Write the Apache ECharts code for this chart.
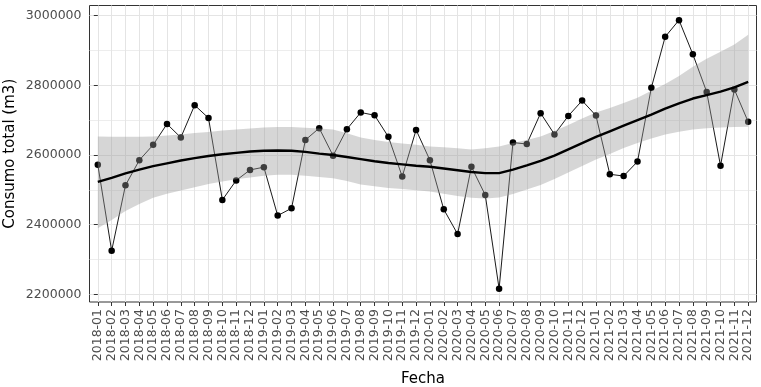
<!DOCTYPE html>
<html>
<head>
<meta charset="utf-8">
<script src="https://cdn.jsdelivr.net/npm/echarts@6/dist/echarts.min.js"></script>
<style>html,body{margin:0;padding:0;background:#fff}#c{width:761px;height:387px}</style>
</head>
<body>
<div id="c"></div>
<script>
const categories = ['2018-01','2018-02','2018-03','2018-04','2018-05','2018-06','2018-07','2018-08','2018-09','2018-10','2018-11','2018-12',
  '2019-01','2019-02','2019-03','2019-04','2019-05','2019-06','2019-07','2019-08','2019-09','2019-10','2019-11','2019-12',
  '2020-01','2020-02','2020-03','2020-04','2020-05','2020-06','2020-07','2020-08','2020-09','2020-10','2020-11','2020-12',
  '2021-01','2021-02','2021-03','2021-04','2021-05','2021-06','2021-07','2021-08','2021-09','2021-10','2021-11','2021-12'];

const consumo = [2572000,2325000,2513000,2585000,2629000,2689000,2650000,2743000,2706000,2471000,2527000,2557000,
  2565000,2426000,2447000,2643000,2677000,2598000,2674000,2722000,2714000,2652000,2538000,2672000,
  2585000,2444000,2373000,2566000,2485000,2216000,2635500,2631500,2720000,2659000,2712000,2756000,
  2713000,2544600,2539500,2581000,2793000,2939000,2987000,2889000,2781000,2569000,2788000,2695000];

const suavizado = [2523000,2534000,2547000,2558000,2568000,2576000,2584000,2591000,2597000,2602000,2606000,2610000,
  2612000,2613000,2612000,2609000,2604000,2600000,2594000,2588000,2582000,2577000,2573000,2569000,
  2566000,2561000,2556000,2551000,2548000,2548000,2558000,2570000,2583000,2598000,2616000,2634000,
  2652000,2668000,2684000,2700000,2716000,2733000,2748000,2762000,2772000,2782000,2794000,2810000];

const bandaSup = [2653000,2652000,2652000,2652000,2653000,2656000,2659000,2663000,2666000,2670000,2673000,2676000,
  2679000,2680000,2680000,2678000,2676000,2673000,2662000,2650000,2643000,2637000,2633000,2629000,
  2624000,2622000,2619000,2616000,2619000,2624000,2634000,2643000,2653000,2669000,2686000,2705000,
  2722000,2735000,2749000,2764000,2784000,2804000,2827000,2853000,2876000,2896000,2917000,2945000];

const bandaInf = [2390000,2413000,2439000,2459000,2477000,2489000,2498000,2507000,2517000,2524000,2530000,2535000,
  2540000,2543000,2543000,2540000,2537000,2533000,2525000,2515000,2510000,2505000,2502000,2499000,
  2495000,2489000,2482000,2477000,2475000,2478000,2488000,2501000,2514000,2531000,2550000,2568000,
  2587000,2603000,2620000,2634000,2647000,2659000,2667000,2673000,2677000,2679000,2680000,2681000];

const yTicks = [2200000, 2400000, 2600000, 2800000, 3000000];

const FONT = 'DejaVu Sans';
const idx = categories.map((c, i) => i);

const chart = echarts.init(document.getElementById('c'), null, {renderer: 'canvas'});
chart.setOption({
  backgroundColor: '#ffffff',
  animation: false,
  grid: {
    left: 89.5, top: 5.5, width: 667, height: 296.5,
    containLabel: false, outerBoundsMode: 'none',
    show: true, borderColor: '#333333', borderWidth: 1, backgroundColor: 'transparent'
  },
  xAxis: {
    type: 'value', min: -0.6, max: 47.6, minInterval: 1, maxInterval: 1, splitNumber: 48,
    name: 'Fecha', nameLocation: 'middle', nameGap: 70, nameMoveOverlap: false,
    nameTextStyle: {fontFamily: FONT, fontSize: 15, color: '#000'},
    axisLine: {show: false},
    axisTick: {show: true, length: 4, lineStyle: {color: '#333333'}, customValues: idx},
    axisLabel: {
      rotate: 90, margin: 7, fontFamily: FONT, fontSize: 12.5, color: '#4D4D4D',
      customValues: idx,
      formatter: v => (Math.abs(v - Math.round(v)) < 1e-6 && categories[Math.round(v)]) ? categories[Math.round(v)] : ''
    },
    splitLine: {show: true, lineStyle: {color: '#E4E4E4', width: 1}}
  },
  yAxis: {
    type: 'value', min: 2178000, max: 3029000, minInterval: 200000, maxInterval: 200000, splitNumber: 4,
    name: 'Consumo total (m3)', nameLocation: 'middle', nameGap: 72, nameMoveOverlap: false,
    nameTextStyle: {fontFamily: FONT, fontSize: 15, color: '#000'},
    axisLine: {show: false},
    axisTick: {show: true, length: 4, lineStyle: {color: '#333333'}, customValues: yTicks},
    axisLabel: {
      margin: 8, fontFamily: FONT, fontSize: 12.5, color: '#4D4D4D',
      customValues: yTicks,
      formatter: v => (v % 200000 === 0 ? String(v) : '')
    },
    splitLine: {show: true, lineStyle: {color: '#E4E4E4', width: 1}},
    minorTick: {show: false, splitNumber: 2},
    minorSplitLine: {show: true, lineStyle: {color: '#E8E8E8', width: 0.8}}
  },
  series: [
    {
      type: 'line', z: 2, silent: true,
      data: consumo.map((v, i) => [i, v]),
      symbol: 'circle', symbolSize: 6.5, showSymbol: true,
      itemStyle: {color: '#000000'},
      lineStyle: {color: '#000000', width: 0.9}
    },
    {
      type: 'custom', z: 3, silent: true,
      data: bandaSup.map((v, i) => [i, bandaInf[i], v]),
      encode: {x: 0, y: [1, 2]},
      renderItem: function (params, api) {
        if (params.dataIndex !== 0) return null;
        const pts = [];
        for (let i = 0; i < bandaSup.length; i++) pts.push(api.coord([i, bandaSup[i]]));
        for (let i = bandaInf.length - 1; i >= 0; i--) pts.push(api.coord([i, bandaInf[i]]));
        return {type: 'polygon', shape: {points: pts}, style: {fill: '#999999', opacity: 0.4}};
      }
    },
    {
      type: 'line', z: 4, silent: true,
      data: suavizado.map((v, i) => [i, v]),
      showSymbol: false, symbol: 'none',
      lineStyle: {color: '#000000', width: 2.4}
    }
  ]
});
</script>
</body>
</html>
